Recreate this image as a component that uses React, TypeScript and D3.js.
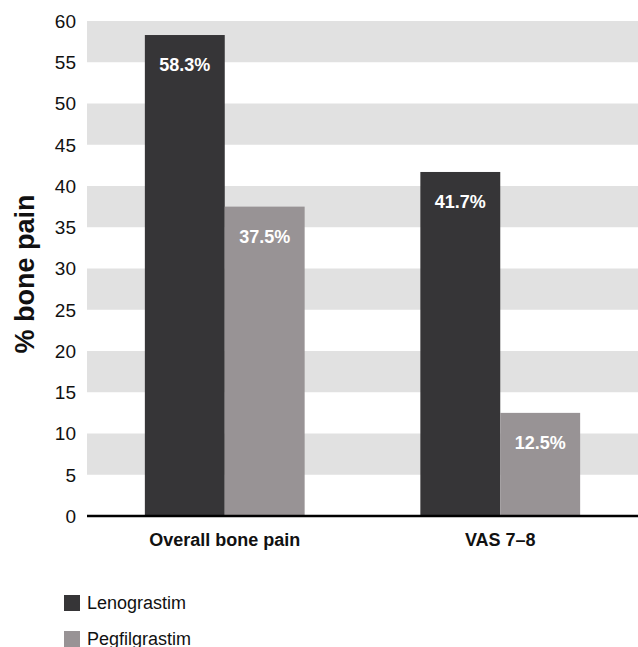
import React, { useEffect, useRef } from 'react';
import * as d3 from 'd3';

const categories = ['Overall bone pain', 'VAS 7–8'];
const seriesNames = ['Lenograstim', 'Pegfilgrastim'];
const lenograstim = [58.3, 41.7];
const pegfilgrastim = [37.5, 12.5];
const yTicks = [0, 5, 10, 15, 20, 25, 30, 35, 40, 45, 50, 55, 60];
const bandStarts = [5, 15, 25, 35, 45, 55];

const colors = ['#363537', '#989395'];

export default function App() {
  const svgRef = useRef<SVGSVGElement>(null);

  useEffect(() => {
    if (!svgRef.current) return;
    const width = 638;
    const height = 647;
    const svg = d3.select(svgRef.current);
    svg.selectAll('*').remove();

    const left = 87, right = 638, top = 21, bottom = 516;
    const font = '"Liberation Sans", Arial, sans-serif';

    const y = d3.scaleLinear().domain([0, 60]).range([bottom, top]);
    const x0 = d3.scaleBand<string>()
      .domain(categories)
      .range([left, right])
      .paddingInner(0.42)
      .paddingOuter(0.21);
    const x1 = d3.scaleBand<string>()
      .domain(seriesNames)
      .range([0, x0.bandwidth()]);

    // grey bands
    svg.append('g')
      .selectAll('rect')
      .data(bandStarts)
      .join('rect')
      .attr('x', left)
      .attr('width', right - left)
      .attr('y', d => y(d + 5))
      .attr('height', d => y(d) - y(d + 5))
      .attr('fill', '#e1e1e1');

    // y tick labels
    svg.append('g')
      .selectAll('text')
      .data(yTicks)
      .join('text')
      .attr('x', 76)
      .attr('y', d => y(d))
      .attr('dy', '0.36em')
      .attr('text-anchor', 'end')
      .style('font-family', font)
      .style('font-size', '19px')
      .style('fill', '#111')
      .text(d => d);

    const rows = categories.map((c, i) => ({
      cat: c,
      values: [
        { name: seriesNames[0], v: lenograstim[i] },
        { name: seriesNames[1], v: pegfilgrastim[i] },
      ],
    }));

    const groups = svg.append('g')
      .selectAll('g')
      .data(rows)
      .join('g')
      .attr('transform', d => `translate(${x0(d.cat)},0)`);

    groups.selectAll('rect')
      .data(d => d.values)
      .join('rect')
      .attr('x', d => x1(d.name)!)
      .attr('width', x1.bandwidth())
      .attr('y', d => y(d.v))
      .attr('height', d => y(0) - y(d.v))
      .attr('fill', (d, i) => colors[i]);

    groups.selectAll('text')
      .data(d => d.values)
      .join('text')
      .attr('x', d => x1(d.name)! + x1.bandwidth() / 2)
      .attr('y', d => y(d.v) + 36)
      .attr('text-anchor', 'middle')
      .style('font-family', font)
      .style('font-size', '18px')
      .style('font-weight', 'bold')
      .style('fill', '#fff')
      .text(d => `${d.v.toFixed(1)}%`);

    // x axis line
    svg.append('line')
      .attr('x1', left)
      .attr('x2', right)
      .attr('y1', bottom)
      .attr('y2', bottom)
      .attr('stroke', '#000')
      .attr('stroke-width', 2.5);

    // x labels
    svg.append('g')
      .selectAll('text')
      .data(categories)
      .join('text')
      .attr('x', d => x0(d)! + x0.bandwidth() / 2)
      .attr('y', 546)
      .attr('text-anchor', 'middle')
      .style('font-family', font)
      .style('font-size', '18px')
      .style('font-weight', 'bold')
      .style('fill', '#111')
      .text(d => d);

    // y title
    svg.append('text')
      .attr('transform', `translate(34,274) rotate(-90)`)
      .attr('text-anchor', 'middle')
      .style('font-family', font)
      .style('font-size', '27px')
      .style('font-weight', 'bold')
      .style('fill', '#111')
      .text('% bone pain');

    // legend
    const legend = svg.append('g')
      .selectAll('g')
      .data(seriesNames)
      .join('g')
      .attr('transform', (d, i) => `translate(64,${595 + i * 36})`);
    legend.append('rect')
      .attr('width', 16)
      .attr('height', 16)
      .attr('fill', (d, i) => colors[i]);
    legend.append('text')
      .attr('x', 23)
      .attr('y', 14)
      .style('font-family', font)
      .style('font-size', '18px')
      .style('fill', '#111')
      .text(d => d);

    svg.attr('width', width).attr('height', height);
  }, []);

  return (
    <svg
      ref={svgRef}
      width={638}
      height={647}
      style={{ position: 'absolute', left: 0, top: 0, background: '#fff' }}
    />
  );
}
